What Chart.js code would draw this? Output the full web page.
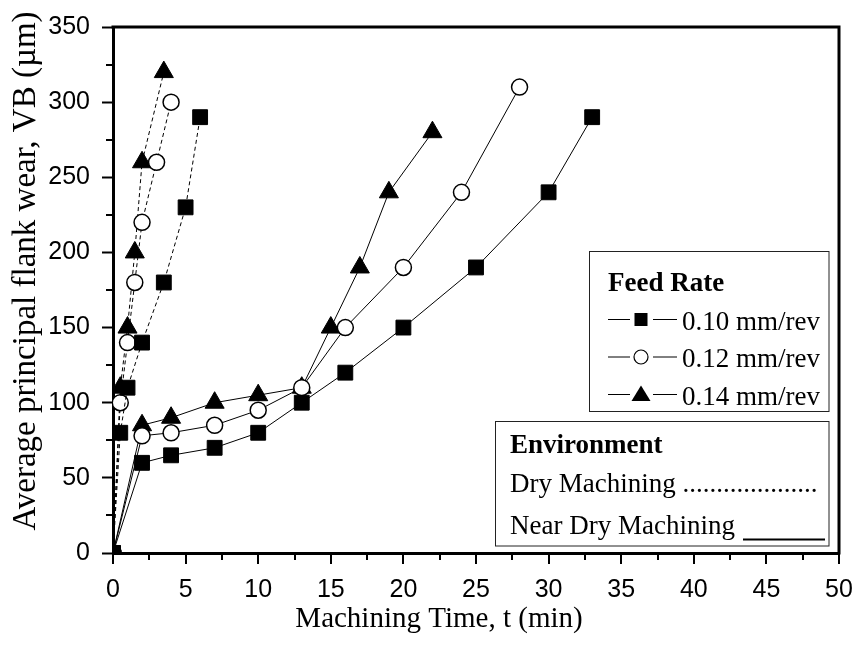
<!DOCTYPE html>
<html><head><meta charset="utf-8">
<script src="https://cdn.jsdelivr.net/npm/chart.js@4/dist/chart.umd.min.js"></script>
<style>html,body{margin:0;padding:0;background:#fff}#wrap{width:860px;height:645px;position:relative}</style>
</head><body><div id="wrap"><canvas id="c" width="860" height="645"></canvas></div>
<script>
// ---- data ----
const dryTime010 = [0, 0.5, 1, 2, 3.5, 5, 6];
const dryWear010 = [0, 80, 110, 140, 180, 230, 290];
const dryTime012 = [0, 0.5, 1, 1.5, 2, 3, 4];
const dryWear012 = [0, 100, 140, 180, 220, 260, 300];
const dryTime014 = [0, 0.5, 1, 1.5, 2, 3.5];
const dryWear014 = [0, 110, 150, 200, 260, 320];
const nearDryTime010 = [0, 2, 4, 7, 10, 13, 16, 20, 25, 30, 33];
const nearDryWear010 = [0, 60, 65, 70, 80, 100, 120, 150, 190, 240, 290];
const nearDryTime012 = [0, 2, 4, 7, 10, 13, 16, 20, 24, 28];
const nearDryWear012 = [0, 78, 80, 85, 95, 110, 150, 190, 240, 310];
const nearDryTime014 = [0, 2, 4, 7, 10, 13, 15, 17, 19, 22];
const nearDryWear014 = [0, 85, 90, 100, 105, 110, 150, 190, 240, 280];
const feedLabels = ['0.10 mm/rev', '0.12 mm/rev', '0.14 mm/rev'];
const envLabels = ['Dry Machining', 'Near Dry Machining'];
const xTitle = 'Machining Time, t (min)';
const yTitle = 'Average principal flank wear, VB (\u00B5m)';

const pts = (xs, ys) => xs.map((v, i) => ({x: v, y: ys[i]}));

const styles = [
  {pointStyle: 'rect', pointRadius: 10.5, pointBackgroundColor: '#000', pointBorderWidth: 1},
  {pointStyle: 'circle', pointRadius: 8, pointBackgroundColor: '#fff', pointBorderWidth: 1.5},
  {pointStyle: 'triangle', pointRadius: 11, pointBackgroundColor: '#000', pointBorderWidth: 1}
];
function ds(label, data, st, dashed) {
  return Object.assign({
    label, data, showLine: true, borderColor: '#000', borderWidth: 1,
    pointBorderColor: '#000', borderDash: dashed ? [4, 3] : [],
    pointHoverRadius: st.pointRadius
  }, st);
}

const SERIF = '"Liberation Serif", "Times New Roman", serif';
const SANS = '"Liberation Sans", Arial, sans-serif';

const decor = {
  id: 'decor',
  afterDraw(chart) {
    const {ctx, chartArea: a, scales: {x, y}} = chart;
    ctx.save();
    ctx.strokeStyle = '#000';
    // x ticks (major every 5, minor every 2.5), y minor ticks
    ctx.lineWidth = 2;
    ctx.beginPath();
    for (let v = x.min; v <= x.max; v += 2.5) {
      const px = Math.round(x.getPixelForValue(v));
      const len = (v % 5 === 0) ? 11 : 7;
      ctx.moveTo(px, a.bottom); ctx.lineTo(px, a.bottom + len);
    }
    for (let v = y.min + 25; v < y.max; v += 50) {
      const py = Math.round(y.getPixelForValue(v));
      ctx.moveTo(a.left, py); ctx.lineTo(a.left - 7, py);
    }
    ctx.stroke();
    // top & right frame
    ctx.lineWidth = 3;
    ctx.beginPath();
    ctx.moveTo(a.left - 1.5, a.top); ctx.lineTo(a.right, a.top); ctx.lineTo(a.right, a.bottom + 1.5);
    ctx.stroke();

    // axis titles
    ctx.fillStyle = '#000';
    ctx.textAlign = 'center'; ctx.textBaseline = 'alphabetic';
    ctx.font = '29px ' + SERIF;
    ctx.fillText(xTitle, 439, 627);
    ctx.save();
    ctx.translate(35, 271);
    ctx.rotate(-Math.PI / 2);
    ctx.font = '33px ' + SERIF;
    ctx.fillText(yTitle, 0, 0);
    ctx.restore();

    // Feed Rate legend box
    ctx.textAlign = 'left';
    ctx.fillStyle = '#fff';
    ctx.fillRect(589.5, 251.5, 239.5, 160);
    ctx.strokeStyle = '#222'; ctx.lineWidth = 1;
    ctx.strokeRect(589.5, 251.5, 239.5, 160);
    ctx.fillStyle = '#000';
    ctx.font = 'bold 27px ' + SERIF;
    ctx.fillText('Feed Rate', 608, 291);
    ctx.font = '27px ' + SERIF;
    const rowY = [319.5, 357, 394.5];
    feedLabels.forEach((lab, i) => {
      const ly = rowY[i];
      ctx.strokeStyle = '#000'; ctx.lineWidth = 1;
      ctx.beginPath();
      ctx.moveTo(608, ly); ctx.lineTo(630, ly);
      ctx.moveTo(653, ly); ctx.lineTo(677, ly);
      ctx.stroke();
      const cx = 641;
      ctx.beginPath();
      if (i === 0) {
        ctx.fillStyle = '#000'; ctx.fillRect(cx - 6.5, ly - 6.5, 13, 13);
      } else if (i === 1) {
        ctx.arc(cx, ly, 7, 0, Math.PI * 2);
        ctx.fillStyle = '#fff'; ctx.fill(); ctx.lineWidth = 1.2; ctx.stroke();
      } else {
        ctx.moveTo(cx, ly - 9); ctx.lineTo(cx + 9.5, ly + 6.5); ctx.lineTo(cx - 9.5, ly + 6.5); ctx.closePath();
        ctx.fillStyle = '#000'; ctx.fill();
      }
      ctx.fillStyle = '#000';
      ctx.fillText(lab, 682, ly + 10);
    });

    // Environment box
    ctx.fillStyle = '#fff';
    ctx.fillRect(495.5, 421.5, 333.5, 124.5);
    ctx.strokeStyle = '#222'; ctx.lineWidth = 1;
    ctx.strokeRect(495.5, 421.5, 333.5, 124.5);
    ctx.fillStyle = '#000';
    ctx.font = 'bold 27px ' + SERIF;
    ctx.fillText('Environment', 510, 453);
    ctx.font = '27px ' + SERIF;
    ctx.fillText(envLabels[0] + ' ....................', 510, 492);
    ctx.fillText(envLabels[1], 510, 533.5);
    ctx.strokeStyle = '#000'; ctx.lineWidth = 2;
    ctx.beginPath(); ctx.moveTo(743, 539.5); ctx.lineTo(825, 539.5); ctx.stroke();
    ctx.restore();
  }
};

new Chart(document.getElementById('c'), {
  type: 'scatter',
  data: {
    datasets: [
      ds('Dry ' + feedLabels[0], pts(dryTime010, dryWear010), styles[0], true),
      ds('Dry ' + feedLabels[1], pts(dryTime012, dryWear012), styles[1], true),
      ds('Dry ' + feedLabels[2], pts(dryTime014, dryWear014), styles[2], true),
      ds('Near dry ' + feedLabels[0], pts(nearDryTime010, nearDryWear010), styles[0], false),
      ds('Near dry ' + feedLabels[1], pts(nearDryTime012, nearDryWear012), styles[1], false),
      ds('Near dry ' + feedLabels[2], pts(nearDryTime014, nearDryWear014), styles[2], false)
    ]
  },
  options: {
    responsive: false,
    animation: false,
    layout: {padding: {top: 17, right: 21, left: 0, bottom: 0}},
    plugins: {legend: {display: false}, tooltip: {enabled: false}},
    scales: {
      x: {
        type: 'linear', min: 0, max: 50,
        afterFit: s => { s.height = 92; },
        border: {display: true, color: '#000', width: 3},
        grid: {display: true, drawOnChartArea: false, drawTicks: true, tickLength: 15, tickWidth: 0, tickColor: 'rgba(0,0,0,0)', color: 'rgba(0,0,0,0)'},
        ticks: {stepSize: 5, padding: 7, color: '#000', font: {family: SANS, size: 25}, maxRotation: 0}
      },
      y: {
        type: 'linear', min: 0, max: 350,
        afterFit: s => { s.width = 113; },
        border: {display: true, color: '#000', width: 3},
        grid: {display: true, drawOnChartArea: false, drawTicks: true, tickLength: 11, tickWidth: 2, tickColor: '#000', color: '#000'},
        ticks: {stepSize: 50, padding: 12, color: '#000', font: {family: SANS, size: 25}}
      }
    }
  },
  plugins: [decor]
});
</script></body></html>
